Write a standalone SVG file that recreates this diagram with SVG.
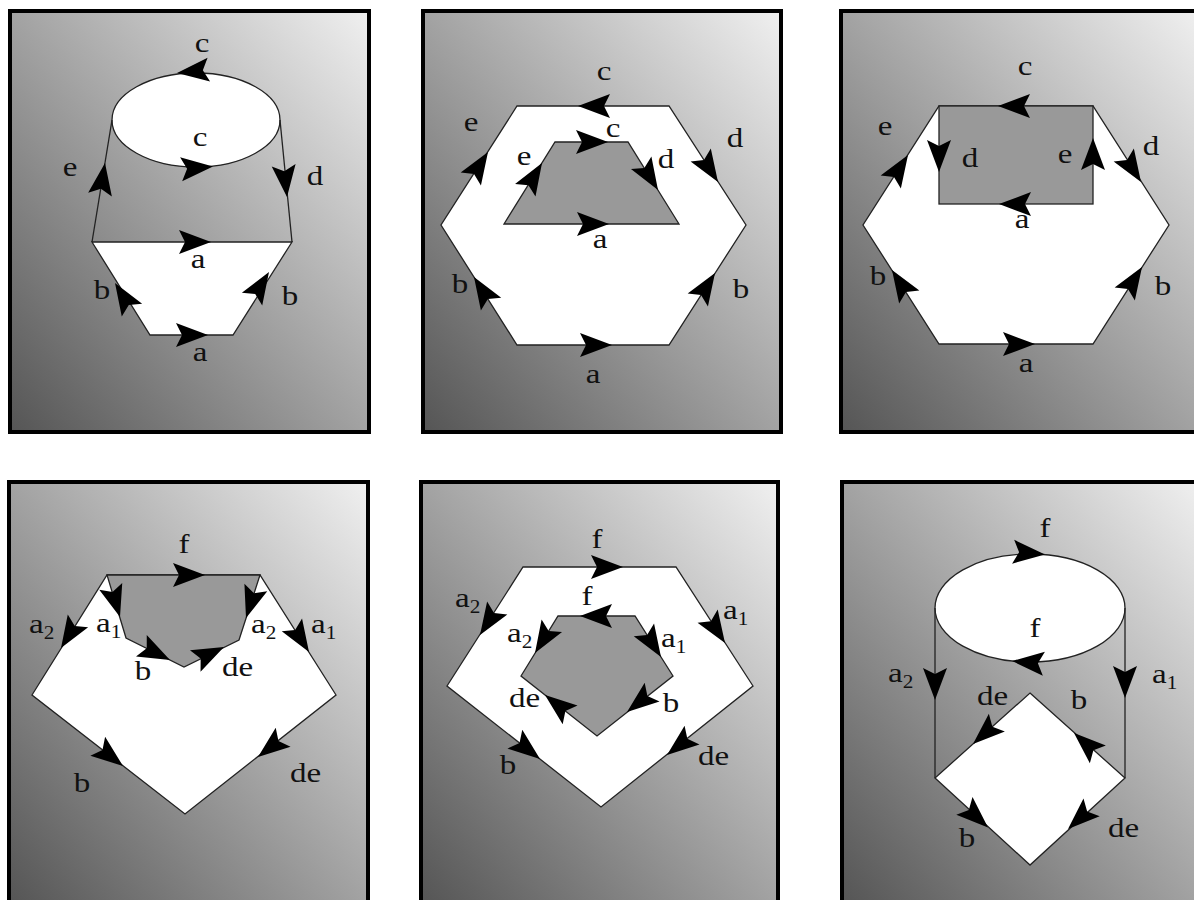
<svg xmlns="http://www.w3.org/2000/svg" width="1194" height="900" viewBox="0 0 1194 900">
<defs>
<linearGradient id="bg" x1="1" y1="0" x2="0" y2="1">
<stop offset="0" stop-color="#f0f0f0"/>
<stop offset="1" stop-color="#555555"/>
</linearGradient>
<path id="ah" d="M0,0 L-32,-12 L-26,0 L-32,12 Z" fill="#000"/>
</defs>
<style>
.frame{fill:url(#bg);stroke:#000;stroke-width:4}
.w{fill:#fff;stroke:#222;stroke-width:1.3}
.g{fill:#999;stroke:#222;stroke-width:1.3}
.ln{fill:none;stroke:#222;stroke-width:1.3}
.m{text-anchor:middle}
</style>
<rect width="1194" height="900" fill="#fff"/>

<g id="panel1" font-family="Liberation Serif, Times New Roman, serif" font-size="28" fill="#111">
<rect class="frame" x="10" y="11" width="359" height="421"/>
<polygon class="w" points="92,242 292,242 233,335 150,335"/>
<ellipse class="w" cx="196" cy="120" rx="84" ry="47"/>
<g class="connectors">
<line class="ln" x1="112" y1="120" x2="92" y2="242"/>
<line class="ln" x1="280" y1="120" x2="292" y2="242"/>
<use href="#ah" transform="translate(177,73) rotate(174)"/>
<use href="#ah" transform="translate(213,166.5) rotate(-5)"/>
<use href="#ah" transform="translate(105,163) rotate(-81)"/>
<use href="#ah" transform="translate(287,197) rotate(84)"/>
<use href="#ah" transform="translate(211,242) rotate(0)"/>
<use href="#ah" transform="translate(115,283) rotate(-122)"/>
<use href="#ah" transform="translate(269,272) rotate(-58)"/>
<use href="#ah" transform="translate(208,335) rotate(0)"/>
</g>
<text class="m" transform="matrix(1.18 0 0 1 202 52)">c</text>
<text class="m" transform="matrix(1.18 0 0 1 200 146)">c</text>
<text class="m" transform="matrix(1.18 0 0 1 70 176)">e</text>
<text class="m" transform="matrix(1.18 0 0 1 315 185)">d</text>
<text class="m" transform="matrix(1.18 0 0 1 198 268)">a</text>
<text class="m" transform="matrix(1.18 0 0 1 102 299)">b</text>
<text class="m" transform="matrix(1.18 0 0 1 290 305)">b</text>
<text class="m" transform="matrix(1.18 0 0 1 200 361)">a</text>
</g>

<g id="panel2" font-family="Liberation Serif, Times New Roman, serif" font-size="28" fill="#111">
<rect class="frame" x="423" y="11" width="358" height="421"/>
<polygon class="w" points="517,106 669,106 746,225 669,345 517,345 441,225"/>
<polygon class="g" points="555,142 628,142 679,224 504,224"/>
<g class="connectors">
<use href="#ah" transform="translate(578,106) rotate(180)"/>
<use href="#ah" transform="translate(608,142) rotate(0)"/>
<use href="#ah" transform="translate(488,152) rotate(-57.5)"/>
<use href="#ah" transform="translate(542,163) rotate(-58.5)"/>
<use href="#ah" transform="translate(718,182) rotate(57.3)"/>
<use href="#ah" transform="translate(658,190) rotate(58.3)"/>
<use href="#ah" transform="translate(609,224) rotate(0)"/>
<use href="#ah" transform="translate(474,277) rotate(-122.2)"/>
<use href="#ah" transform="translate(715,273) rotate(-57.5)"/>
<use href="#ah" transform="translate(612,345) rotate(0)"/>
</g>
<text class="m" transform="matrix(1.18 0 0 1 604 80)">c</text>
<text class="m" transform="matrix(1.18 0 0 1 613 137)">c</text>
<text class="m" transform="matrix(1.18 0 0 1 471 131)">e</text>
<text class="m" transform="matrix(1.18 0 0 1 524 165)">e</text>
<text class="m" transform="matrix(1.18 0 0 1 735 147)">d</text>
<text class="m" transform="matrix(1.18 0 0 1 666 168)">d</text>
<text class="m" transform="matrix(1.18 0 0 1 600 248)">a</text>
<text class="m" transform="matrix(1.18 0 0 1 460 293)">b</text>
<text class="m" transform="matrix(1.18 0 0 1 741 298)">b</text>
<text class="m" transform="matrix(1.18 0 0 1 593 383)">a</text>
</g>

<g id="panel3" font-family="Liberation Serif, Times New Roman, serif" font-size="28" fill="#111">
<rect class="frame" x="841" y="11" width="358" height="421"/>
<polygon class="w" points="939,106 1093,106 1169,225 1093,344 939,344 863,225"/>
<rect class="g" x="939" y="106" width="154" height="98"/>
<g class="connectors">
<use href="#ah" transform="translate(998,106) rotate(180)"/>
<use href="#ah" transform="translate(939,172) rotate(90)"/>
<use href="#ah" transform="translate(1093,138) rotate(-90)"/>
<use href="#ah" transform="translate(999,204) rotate(180)"/>
<use href="#ah" transform="translate(908,155) rotate(-57.4)"/>
<use href="#ah" transform="translate(1141,182) rotate(57.4)"/>
<use href="#ah" transform="translate(892,270) rotate(-122.6)"/>
<use href="#ah" transform="translate(1142,267) rotate(-57.4)"/>
<use href="#ah" transform="translate(1035,344) rotate(0)"/>
</g>
<text class="m" transform="matrix(1.18 0 0 1 1025 75)">c</text>
<text class="m" transform="matrix(1.18 0 0 1 885 135)">e</text>
<text class="m" transform="matrix(1.18 0 0 1 970 167)">d</text>
<text class="m" transform="matrix(1.18 0 0 1 1065 163)">e</text>
<text class="m" transform="matrix(1.18 0 0 1 1151 155)">d</text>
<text class="m" transform="matrix(1.18 0 0 1 1022 228)">a</text>
<text class="m" transform="matrix(1.18 0 0 1 878 285)">b</text>
<text class="m" transform="matrix(1.18 0 0 1 1163 295)">b</text>
<text class="m" transform="matrix(1.18 0 0 1 1026 372)">a</text>
</g>

<g id="panel4" font-family="Liberation Serif, Times New Roman, serif" font-size="28" fill="#111">
<rect class="frame" x="9" y="482" width="359" height="421"/>
<polygon class="w" points="107,575 260,575 336,695 185,814 32,695"/>
<polygon class="g" points="107,575 260,575 239,640 184,667 126,638"/>
<g class="connectors">
<use href="#ah" transform="translate(205,575) rotate(0)"/>
<use href="#ah" transform="translate(120,617) rotate(73.2)"/>
<use href="#ah" transform="translate(246,618) rotate(107.9)"/>
<use href="#ah" transform="translate(170,660) rotate(26.6)"/>
<use href="#ah" transform="translate(224,647) rotate(-26.1)"/>
<use href="#ah" transform="translate(61,648) rotate(122)"/>
<use href="#ah" transform="translate(309,652) rotate(57.7)"/>
<use href="#ah" transform="translate(123,766) rotate(37.9)"/>
<use href="#ah" transform="translate(258,757) rotate(141.8)"/>
</g>
<text class="m" transform="matrix(1.18 0 0 1 184 553)">f</text>
<text transform="matrix(1.18 0 0 1 29 633)">a<tspan font-size="18" dy="6">2</tspan></text>
<text transform="matrix(1.18 0 0 1 96 632)">a<tspan font-size="18" dy="6">1</tspan></text>
<text transform="matrix(1.18 0 0 1 251 633)">a<tspan font-size="18" dy="6">2</tspan></text>
<text transform="matrix(1.18 0 0 1 311 633)">a<tspan font-size="18" dy="6">1</tspan></text>
<text class="m" transform="matrix(1.18 0 0 1 143 680)">b</text>
<text transform="matrix(1.18 0 0 1 222 676)">de</text>
<text class="m" transform="matrix(1.18 0 0 1 82 792)">b</text>
<text transform="matrix(1.18 0 0 1 290 782)">de</text>
</g>

<g id="panel5" font-family="Liberation Serif, Times New Roman, serif" font-size="28" fill="#111">
<rect class="frame" x="421" y="482" width="357" height="421"/>
<polygon class="w" points="523,567 676,567 753,686 601,807 447,686"/>
<polygon class="g" points="558,616 635,616 673,676 597,736 521,676"/>
<g class="connectors">
<use href="#ah" transform="translate(623,567) rotate(0)"/>
<use href="#ah" transform="translate(580,616) rotate(180)"/>
<use href="#ah" transform="translate(480,635) rotate(122.6)"/>
<use href="#ah" transform="translate(725,643) rotate(57.1)"/>
<use href="#ah" transform="translate(535,653) rotate(121.7)"/>
<use href="#ah" transform="translate(661,657) rotate(57.7)"/>
<use href="#ah" transform="translate(545,695) rotate(-141.7)"/>
<use href="#ah" transform="translate(627,712) rotate(141.7)"/>
<use href="#ah" transform="translate(540,759) rotate(38.2)"/>
<use href="#ah" transform="translate(667,755) rotate(141.5)"/>
</g>
<text class="m" transform="matrix(1.18 0 0 1 597 548)">f</text>
<text class="m" transform="matrix(1.18 0 0 1 587 605)">f</text>
<text transform="matrix(1.18 0 0 1 455 607)">a<tspan font-size="18" dy="6">2</tspan></text>
<text transform="matrix(1.18 0 0 1 723 619)">a<tspan font-size="18" dy="6">1</tspan></text>
<text transform="matrix(1.18 0 0 1 507 642)">a<tspan font-size="18" dy="6">2</tspan></text>
<text transform="matrix(1.18 0 0 1 661 647)">a<tspan font-size="18" dy="6">1</tspan></text>
<text transform="matrix(1.18 0 0 1 509 707)">de</text>
<text class="m" transform="matrix(1.18 0 0 1 671 712)">b</text>
<text class="m" transform="matrix(1.18 0 0 1 508 774)">b</text>
<text transform="matrix(1.18 0 0 1 698 765)">de</text>
</g>

<g id="panel6" font-family="Liberation Serif, Times New Roman, serif" font-size="28" fill="#111">
<rect class="frame" x="842" y="482" width="358" height="421"/>
<polygon class="w" points="1030,693 1125,778 1030,865 935,778"/>
<ellipse class="w" cx="1030" cy="608" rx="95" ry="54"/>
<g class="connectors">
<line class="ln" x1="935" y1="608" x2="935" y2="778"/>
<line class="ln" x1="1125" y1="608" x2="1125" y2="778"/>
<use href="#ah" transform="translate(1045,554.5) rotate(5)"/>
<use href="#ah" transform="translate(1012,661) rotate(-175)"/>
<use href="#ah" transform="translate(935,700) rotate(90)"/>
<use href="#ah" transform="translate(1125,698) rotate(90)"/>
<use href="#ah" transform="translate(973,744) rotate(138.2)"/>
<use href="#ah" transform="translate(1074,733) rotate(-138.2)"/>
<use href="#ah" transform="translate(988,827.5) rotate(42.5)"/>
<use href="#ah" transform="translate(1068,829) rotate(137.5)"/>
</g>
<text class="m" transform="matrix(1.18 0 0 1 1045 537)">f</text>
<text class="m" transform="matrix(1.18 0 0 1 1035 637)">f</text>
<text transform="matrix(1.18 0 0 1 888 682)">a<tspan font-size="18" dy="6">2</tspan></text>
<text transform="matrix(1.18 0 0 1 1152 683)">a<tspan font-size="18" dy="6">1</tspan></text>
<text transform="matrix(1.18 0 0 1 977 705)">de</text>
<text class="m" transform="matrix(1.18 0 0 1 1079 709)">b</text>
<text class="m" transform="matrix(1.18 0 0 1 967 847)">b</text>
<text transform="matrix(1.18 0 0 1 1108 837)">de</text>
</g>
</svg>
